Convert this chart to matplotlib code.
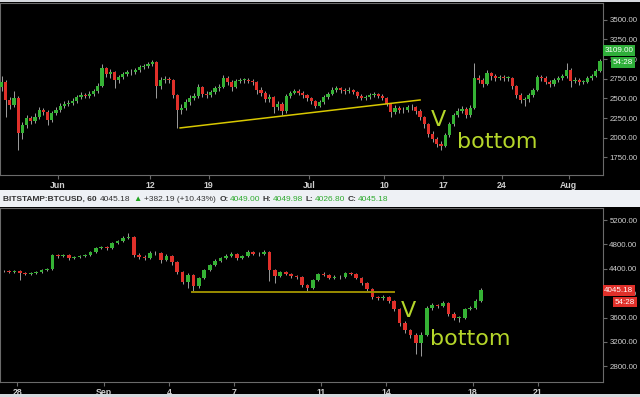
import numpy as np
import pandas as pd
import matplotlib
matplotlib.use('Agg')
import matplotlib.pyplot as plt
import matplotlib.dates as mdates
from matplotlib import font_manager
from matplotlib.patches import Rectangle
import matplotlib.transforms as mtransforms

# ---- data: BTCUSD, Jun-Aug 2017 (12h candles)
top_start = '2017-05-25 06:00'
top_first_open = 2640
top_close = [2710, 2480, 2415, 2505, 2060, 2160, 2250, 2215, 2265, 2350,
             2330, 2225, 2315, 2350, 2405, 2430, 2440, 2465, 2515, 2545,
             2530, 2555, 2595, 2655, 2885, 2810, 2835, 2735, 2770, 2810,
             2835, 2835, 2860, 2900, 2910, 2935, 2960, 2655, 2735, 2745,
             2735, 2545, 2350, 2380, 2455, 2505, 2530, 2645, 2555, 2545,
             2580, 2630, 2645, 2760, 2710, 2645, 2720, 2735, 2735, 2720,
             2710, 2605, 2570, 2490, 2515, 2390, 2430, 2340, 2530, 2570,
             2595, 2570, 2545, 2505, 2465, 2405, 2455, 2515, 2555, 2605,
             2630, 2605, 2595, 2605, 2580, 2530, 2505, 2515, 2545, 2555,
             2530, 2505, 2430, 2325, 2380, 2350, 2350, 2390, 2390, 2340,
             2265, 2175, 2050, 1985, 1920, 1895, 2035, 2175, 2290, 2340,
             2365, 2290, 2380, 2760, 2735, 2685, 2820, 2785, 2760, 2770,
             2760, 2760, 2655, 2545, 2480, 2490, 2545, 2605, 2770, 2760,
             2710, 2685, 2735, 2760, 2785, 2860, 2720, 2735, 2710, 2710,
             2760, 2785, 2850, 2975]
top_high = [2790, 2730, 2520, 2590, 2530, 2200, 2290, 2280, 2310, 2385,
            2380, 2350, 2340, 2390, 2440, 2470, 2475, 2500, 2545, 2580,
            2570, 2590, 2625, 2690, 2935, 2900, 2870, 2850, 2800, 2840,
            2860, 2870, 2890, 2930, 2940, 2960, 2990, 2970, 2770, 2780,
            2775, 2750, 2560, 2430, 2490, 2540, 2570, 2680, 2660, 2590,
            2610, 2660, 2680, 2800, 2780, 2730, 2750, 2760, 2765, 2760,
            2745, 2720, 2640, 2590, 2560, 2530, 2470, 2450, 2550, 2600,
            2625, 2620, 2590, 2560, 2520, 2480, 2480, 2540, 2580, 2640,
            2660, 2650, 2635, 2640, 2625, 2595, 2550, 2545, 2570, 2580,
            2575, 2550, 2520, 2440, 2410, 2400, 2390, 2420, 2425, 2405,
            2360, 2280, 2190, 2080, 2010, 1960, 2060, 2200, 2320, 2380,
            2400, 2390, 2410, 2950, 2800, 2760, 2860, 2840, 2810, 2800,
            2800, 2790, 2775, 2670, 2570, 2520, 2570, 2630, 2800, 2800,
            2780, 2730, 2760, 2790, 2810, 2950, 2880, 2770, 2760, 2740,
            2780, 2810, 2870, 3000]
top_low = [2600, 2265, 2370, 2390, 1845, 1990, 2120, 2170, 2190, 2240,
           2290, 2160, 2200, 2290, 2330, 2380, 2400, 2410, 2440, 2490,
           2500, 2500, 2530, 2570, 2640, 2770, 2760, 2630, 2700, 2750,
           2790, 2800, 2810, 2840, 2870, 2880, 2910, 2505, 2620, 2700,
           2700, 2500, 2125, 2300, 2350, 2420, 2480, 2510, 2520, 2500,
           2520, 2560, 2600, 2630, 2670, 2600, 2630, 2690, 2700, 2690,
           2670, 2560, 2530, 2450, 2460, 2315, 2350, 2290, 2320, 2500,
           2550, 2540, 2510, 2470, 2430, 2380, 2390, 2430, 2490, 2540,
           2580, 2570, 2560, 2570, 2550, 2500, 2480, 2480, 2490, 2520,
           2500, 2480, 2400, 2265, 2300, 2310, 2310, 2330, 2350, 2300,
           2230, 2130, 2010, 1940, 1880, 1845, 1880, 2010, 2150, 2260,
           2310, 2250, 2270, 2370, 2690, 2640, 2670, 2740, 2720, 2730,
           2720, 2720, 2620, 2510, 2440, 2400, 2460, 2520, 2590, 2720,
           2680, 2650, 2660, 2710, 2740, 2760, 2650, 2690, 2670, 2680,
           2690, 2740, 2770, 2830]

# ---- data: BTCUSD, Aug-Sep 2017 (6h candles)
bot_start = '2017-08-27 09:00'
bot_first_open = 4360
bot_close = [4365, 4350, 4365, 4330, 4315, 4330, 4350, 4380, 4395, 4625,
             4610, 4625, 4575, 4595, 4610, 4625, 4675, 4740, 4755, 4740,
             4825, 4855, 4905, 4920, 4625, 4595, 4575, 4660, 4660, 4545,
             4610, 4510, 4345, 4185, 4300, 4120, 4250, 4380, 4460, 4530,
             4575, 4610, 4640, 4575, 4610, 4675, 4640, 4640, 4675, 4380,
             4280, 4345, 4315, 4280, 4265, 4135, 4085, 4215, 4315, 4300,
             4250, 4265, 4265, 4330, 4315, 4250, 4165, 4070, 3935, 3920,
             3935, 3870, 3740, 3510, 3395, 3315, 3185, 3310, 3755, 3805,
             3790, 3840, 3660, 3595, 3595, 3740, 3755, 3870, 4045.18]
bot_high = [4385, 4380, 4385, 4375, 4345, 4350, 4370, 4400, 4415, 4650,
            4645, 4650, 4640, 4615, 4630, 4650, 4695, 4760, 4780, 4775,
            4845, 4875, 4930, 4990, 4935, 4660, 4620, 4685, 4690, 4670,
            4635, 4625, 4525, 4360, 4330, 4315, 4270, 4400, 4485, 4555,
            4600, 4640, 4670, 4660, 4630, 4700, 4690, 4670, 4700, 4690,
            4400, 4370, 4365, 4335, 4300, 4280, 4150, 4235, 4335, 4340,
            4320, 4290, 4295, 4350, 4355, 4330, 4270, 4185, 4090, 3960,
            3965, 3950, 3890, 3760, 3540, 3420, 3340, 3360, 3790, 3835,
            3830, 3870, 3855, 3690, 3630, 3760, 3790, 3900, 4080]
bot_low = [4340, 4330, 4335, 4215, 4290, 4300, 4315, 4335, 4365, 4380,
           4585, 4595, 4550, 4560, 4580, 4595, 4610, 4660, 4720, 4700,
           4725, 4810, 4840, 4890, 4600, 4560, 4540, 4560, 4630, 4500,
           4530, 4470, 4310, 4150, 4085, 4030, 4090, 4230, 4360, 4440,
           4510, 4555, 4590, 4550, 4555, 4595, 4620, 4615, 4625, 4200,
           4165, 4260, 4290, 4255, 4240, 4100, 4035, 4070, 4200, 4275,
           4230, 4235, 4240, 4250, 4295, 4230, 4140, 4040, 3900, 3880,
           3895, 3840, 3700, 3460, 3350, 3260, 3000, 2975, 3290, 3730,
           3760, 3770, 3630, 3560, 3530, 3580, 3720, 3740, 3850]

top_ticks = ['2017-06-01', '2017-06-12', '2017-06-19', '2017-07-01',
             '2017-07-10', '2017-07-17', '2017-07-24', '2017-08-01']
top_tick_labels = ['Jun', '12', '19', 'Jul', '10', '17', '24', 'Aug']
bot_ticks = ['2017-08-28', '2017-09-01', '2017-09-04', '2017-09-07',
             '2017-09-11', '2017-09-14', '2017-09-18', '2017-09-21']
bot_tick_labels = ['28', 'Sep', '4', '7', '11', '14', '18', '21']

top_trend_dates = ['2017-06-15 14:00', '2017-07-14 06:00']
top_trend_prices = [2125, 2480]
bot_trend_dates = ['2017-09-05 01:30', '2017-09-14 08:30']
bot_trend_prices = [4027, 4027]

GREEN = '#35b235'
RED = '#e0302a'
WICK = '#b8b8b8'
LIME = '#b5d62a'
AXC = '#cfcfcf'
GRID = '#6a6a6a'

plt.rcParams['font.family'] = ['Liberation Sans', 'DejaVu Sans']

# header font: narrow face if it is there, else plain Liberation Sans a bit smaller
names = {f.name for f in font_manager.fontManager.ttflist}
if 'Liberation Sans Narrow' in names:
    HEAD_FAM, HEAD_SIZE = ['Liberation Sans Narrow', 'DejaVu Sans'], 7.2
else:
    HEAD_FAM, HEAD_SIZE = ['Liberation Sans', 'DejaVu Sans'], 6.0

W, H = 640, 397
fig = plt.figure(figsize=(W / 100, H / 100), dpi=100, facecolor='black')


def px_axes(x0, y0, x1, y1):
    return fig.add_axes([x0 / W, 1 - y1 / H, (x1 - x0) / W, (y1 - y0) / H])


def to_num(strs):
    return mdates.date2num(pd.to_datetime(strs).to_pydatetime())


def draw_candles(ax, start, freq, first_open, closes, highs, lows, width):
    closes = np.array(closes, float)
    opens = np.concatenate([[first_open], closes[:-1]])
    dates = pd.date_range(start, periods=len(closes), freq=freq)
    x = mdates.date2num(dates.to_pydatetime())
    ax.vlines(x, lows, highs, color=WICK, lw=0.6, zorder=2)
    up = closes >= opens
    cols = np.where(up, GREEN, RED)
    h = np.maximum(np.abs(closes - opens), 6)
    ax.bar(x, h, bottom=np.minimum(opens, closes), width=width,
           color=cols, linewidth=0, zorder=3)


def style(ax, xlim, ylim, ticks, labels, yticks):
    ax.set_facecolor('black')
    ax.set_xlim(to_num(xlim))
    ax.set_ylim(ylim)
    for s in ax.spines.values():
        s.set_color(GRID)
        s.set_linewidth(0.8)
    ax.set_xticks(to_num(ticks))
    ax.set_xticklabels(labels, fontsize=6.3, fontweight='bold', color=AXC)
    ax.yaxis.tick_right()
    ax.set_yticks(yticks)
    ax.set_yticklabels(['%.2f' % v for v in yticks], fontsize=5.7, color=AXC)
    ax.tick_params(axis='x', length=3, color=GRID, pad=1.5)
    ax.tick_params(axis='y', length=3, color=GRID, pad=1.5)


def price_box(ax, y, text, color, x=1.002):
    tr = mtransforms.blended_transform_factory(ax.transAxes, ax.transData)
    ax.text(x, y, text, transform=tr, fontsize=5.8, color='white',
            va='center', ha='left', clip_on=False, zorder=5,
            bbox=dict(boxstyle='square,pad=0.2', fc=color, ec='none'))


# ---- top chart
ax1 = px_axes(0, 3, 603, 175)
draw_candles(ax1, top_start, '12h', top_first_open, top_close, top_high,
             top_low, 0.38)
ax1.plot(to_num(top_trend_dates), top_trend_prices, color='#d8c800', lw=1.1,
         zorder=4)
style(ax1, ['2017-05-25 01:40', '2017-08-05 02:30'], (1527, 3712),
      top_ticks, top_tick_labels, np.arange(1750, 3501, 250))
price_box(ax1, 3109, '3109.00', '#2fae3a')
price_box(ax1, 2955, '54:28', '#2fae3a', x=1.016)

# ---- bottom chart
ax2 = px_axes(0, 208, 603, 382)
draw_candles(ax2, bot_start, '6h', bot_first_open, bot_close, bot_high,
             bot_low, 0.17)
ax2.plot(to_num(bot_trend_dates), bot_trend_prices, color='#9a8c00', lw=1.4,
         zorder=4)
style(ax2, ['2017-08-27 05:00', '2017-09-24 00:00'], (2543, 5397),
      bot_ticks, bot_tick_labels, np.arange(2800, 5201, 400))
price_box(ax2, 4045.18, '4045.18', '#e0302a')
price_box(ax2, 3855, '54:28', '#e0302a', x=1.02)

# ---- header strip between the charts
fig.patches.append(Rectangle((0, 1 - 207 / H), 1, 17 / H, transform=fig.transFigure,
                             fc='#eef1f5', ec='none', zorder=0))
fig.patches.append(Rectangle((0, 1 - 2 / H), 1, 2 / H, transform=fig.transFigure,
                             fc='#d6d9de', ec='none', zorder=0))
fig.patches.append(Rectangle((0, 0), 1, 3 / H, transform=fig.transFigure,
                             fc='#d6d9de', ec='none', zorder=0))

hy = 1 - 199 / H
DARK = '#333333'
HG = '#2faa2f'
parts = [(2, 'BITSTAMP:BTCUSD, 60', DARK, 'bold'),
         (96, '4045.18', DARK, 'normal'),
         (129, '\u25b2', '#1fa31f', 'normal'),
         (139, '+382.19 (+10.43%)', DARK, 'normal'),
         (216, 'O:', DARK, 'bold'), (226, '4049.00', HG, 'normal'),
         (261, 'H:', DARK, 'bold'), (271, '4049.98', HG, 'normal'),
         (305, 'L:', DARK, 'bold'), (313, '4026.80', HG, 'normal'),
         (347, 'C:', DARK, 'bold'), (357, '4045.18', HG, 'normal')]
renderer = fig.canvas.get_renderer()
prev_end = 0
for px, txt, col, wt in parts:
    start = max(px, prev_end + 3)
    t = fig.text(start / W, hy, txt, color=col, fontsize=HEAD_SIZE,
                 fontweight=wt, va='center', ha='left', family=HEAD_FAM)
    prev_end = t.get_window_extent(renderer).x1
    if txt.endswith(':'):
        prev_end -= 2

# ---- annotations
ann = dict(color=LIME, fontsize=16, family='DejaVu Sans', va='baseline')
fig.text(438 / W, 1 - 126 / H, 'V', ha='center', **ann)
fig.text(457 / W, 1 - 148 / H, 'bottom', ha='left', **ann)
fig.text(408 / W, 1 - 317 / H, 'V', ha='center', **ann)
fig.text(430 / W, 1 - 345 / H, 'bottom', ha='left', **ann)

fig.savefig('out.png', dpi=100, facecolor='black')
